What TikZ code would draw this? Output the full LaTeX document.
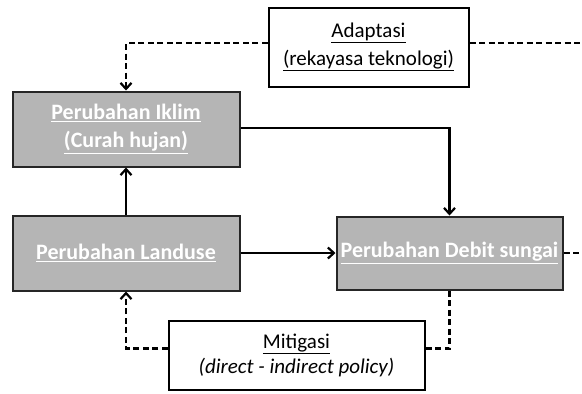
\documentclass[tikz,border=0pt]{standalone}
\usepackage{fontspec}
\setmainfont{Carlito}
\usetikzlibrary{arrows.meta}
\begin{document}
\begin{tikzpicture}[x=1pt,y=-1pt]
        \tikzstyle{block} = [rectangle, text=white, text centered, draw=black!85, fill=gray!58, line width=2pt, font=\fontsize{22}{28}\selectfont\bfseries, inner sep=0pt]
        \tikzstyle{plain} = [rectangle, text=black, text centered, draw=black, fill=white, line width=2pt, font=\fontsize{21}{28}\selectfont, inner sep=0pt]
        \tikzstyle{line} = [-{Straight Barb[length=6pt,width=11pt]},draw=black,line width=2.2pt]
        \tikzstyle{dline} = [-{Straight Barb[length=6pt,width=11pt]},draw=black,line width=2.2pt,dash pattern=on 6pt off 3.5pt]
        \tikzstyle{noarrow} = [draw=black,line width=2.2pt,dash pattern=on 6pt off 3.5pt]
        \useasboundingbox (0,0) rectangle (582,394);
        \node[plain, minimum width=200pt, minimum height=79pt, align=center] (adaptasi) at (368.5,47) {\underline{Adaptasi}\\\underline{(rekayasa teknologi)}};
        \node[block, minimum width=227pt, minimum height=75pt, align=center] (iklim) at (126,129) {\underline{Perubahan Iklim}\\\underline{(Curah hujan)}};
        \node[block, minimum width=227pt, minimum height=75pt] (landuse) at (126,253) {\underline{Perubahan Landuse}};
        \node[block, minimum width=226pt, minimum height=73pt] (debit) at (449.5,253) {\underline{Perubahan Debit sungai}};
        \node[plain, minimum width=256pt, minimum height=69pt, align=center, font=\fontsize{21}{25}\selectfont] (mitigasi) at (296.5,355.5) {\underline{Mitigasi}\\\textit{(direct - indirect policy)}};
        \coordinate (adaptend) at (582,43);
        \coordinate (debitend) at (582,253);
        \draw[dline] ([yshift=4pt]adaptasi.west) -| (iklim.north);
        \draw[noarrow] ([yshift=4pt]adaptasi.east) -- (adaptend);
        \draw[line] ([yshift=1pt]iklim.east) -| (debit.north);
        \draw[line] (landuse.north) -- (iklim.south);
        \draw[line] (landuse.east) -- (debit.west);
        \draw[noarrow] (debit.east) -- (debitend);
        \draw[noarrow] (debit.south) |- ([yshift=7pt]mitigasi.east);
        \draw[dline] ([yshift=7pt]mitigasi.west) -| (landuse.south);
    \end{tikzpicture}
\end{document}
